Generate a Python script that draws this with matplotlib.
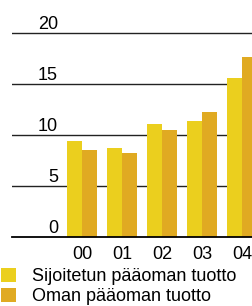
import matplotlib.pyplot as plt
import numpy as np

plt.rcParams['font.family'] = ['Liberation Sans', 'DejaVu Sans']

# Data
years = ['00', '01', '02', '03', '04']
sijoitettu = [9.4, 8.7, 11.1, 11.4, 15.6]   # Sijoitetun pääoman tuotto
oma = [8.5, 8.2, 10.5, 12.3, 17.6]          # Oman pääoman tuotto
yticks = [0, 5, 10, 15, 20]
labels = ['Sijoitetun pääoman tuotto', 'Oman pääoman tuotto']

col_yellow = '#EBCF1E'
col_orange = '#E0AA22'
fs = 13

x = np.arange(len(years))
w = 0.375

fig = plt.figure(figsize=(2.52, 3.06), dpi=100)
ax = fig.add_axes([12 / 252, 69 / 306, 240 / 252, 237 / 306])

b1 = ax.bar(x - w / 2, sijoitettu, width=w, color=col_yellow, zorder=3, label=labels[0])
b2 = ax.bar(x + w / 2, oma, width=w, color=col_orange, zorder=3, label=labels[1])

ax.set_xlim(-1.75, 4.25)
ax.set_ylim(0, 237 / 10.2)

# horizontal grid lines with labels sitting above them
for v in yticks:
    if v == 0:
        ax.axhline(v, color='black', lw=1.3, zorder=4, clip_on=False)
    else:
        ax.axhline(v, color='#222222', lw=1.0, zorder=1)
    ax.text(-0.6, v + 0.4, str(v), ha='right', va='baseline', fontsize=fs, zorder=5)

# year labels under the bars
for xi, yr in zip(x, years):
    ax.text(xi, -2.15, yr, ha='center', va='baseline', fontsize=fs, clip_on=False)

for s in ax.spines.values():
    s.set_visible(False)
ax.set_xticks([])
ax.set_yticks([])

fig.legend(handles=[b1, b2], loc='upper left', bbox_to_anchor=(1 / 252, 1 - 268 / 306),
           frameon=False, fontsize=fs, handlelength=0.83, handleheight=0.83,
           handletextpad=0.9, borderpad=0, borderaxespad=0, labelspacing=0.12)

fig.savefig('out.png', dpi=100)
